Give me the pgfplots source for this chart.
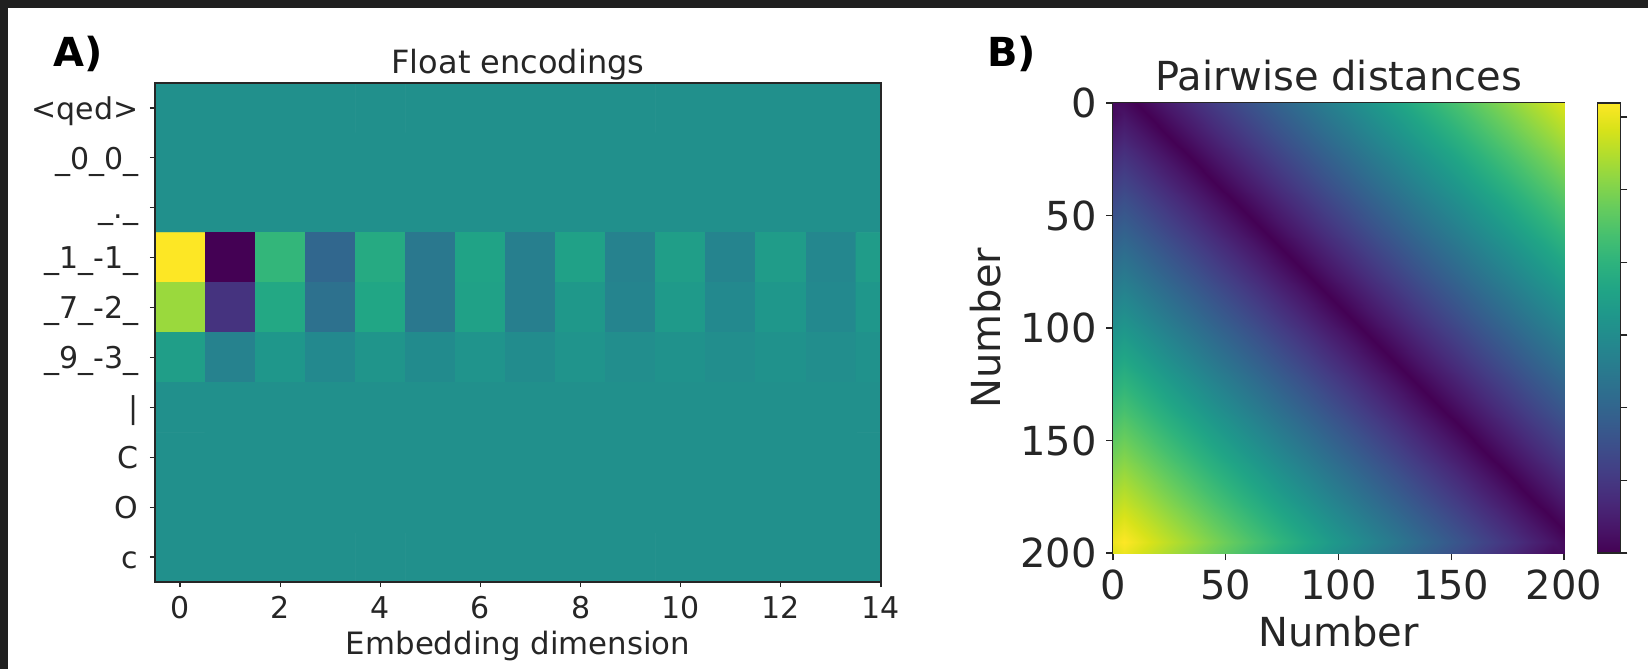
\documentclass[border=0pt]{standalone}
\usepackage{fontspec}
\setmainfont{DejaVu Sans}
\usepackage{pgfplots}
\pgfplotsset{compat=1.18}
\definecolor{bgdark}{RGB}{32,32,32}
\definecolor{axgray}{RGB}{38,38,38}

\pgfplotsset{
  mplstyle/.style={
    scale only axis,
    tick align=outside,
    xtick pos=left, ytick pos=left,
    axis line style={axgray, line width=0.8pt},
    every tick/.style={axgray, line width=0.6pt},
    /pgf/number format/assume math mode=true,
    colormap/viridis,
    point meta=explicit,
  },
}

\begin{document}
\begin{tikzpicture}
\fill[bgdark] (0,0) rectangle (824pt,334.5pt);
\fill[white] (4pt,0) rectangle (824pt,330.5pt);

\node[font=\fontsize{20}{24}\selectfont\bfseries, anchor=base west, inner sep=0pt, text=black] at (26.5pt,301pt) {A)};
\node[font=\fontsize{20}{24}\selectfont\bfseries, anchor=base west, inner sep=0pt, text=black] at (493.5pt,301pt) {B)};

% Panel A: float encodings
\begin{axis}[
  mplstyle,
  at={(77.5pt,43.5pt)}, anchor=south west,
  width=363pt, height=249.5pt,
  xmin=-0.5, xmax=14, ymin=-0.5, ymax=9.5, y dir=reverse,
  xtick={0,2,...,14}, ytick={0,...,9},
  yticklabels={<qed>, \_0\_0\_, \_.\_, \_1\_-1\_, \_7\_-2\_, \_9\_-3\_, |, C, O, c},
  major tick length=2.5pt,
  tick label style={font=\fontsize{15}{18}\selectfont, text=axgray, inner sep=0pt},
  xticklabel style={anchor=base, yshift=-15.5pt},
  yticklabel style={anchor=base east, xshift=-5.7pt, yshift=-5.6pt},
  title={Float encodings},
  title style={font=\fontsize{16}{19}\selectfont, text=axgray, at={(0.5,1)}, anchor=base, yshift=-1pt, inner sep=0pt},
  xlabel={Embedding dimension},
  xlabel style={font=\fontsize{15.4}{18}\selectfont, text=axgray, at={(0.5,0)}, anchor=base, yshift=-36pt, inner sep=0pt},
  point meta min=-1, point meta max=1,
]
\addplot[matrix plot, mesh/cols=15] coordinates {
(0,0)[0] (1,0)[0] (2,0)[0] (3,0)[0] (4,0)[0] (5,0)[0] (6,0)[0] (7,0)[0] (8,0)[0] (9,0)[0] (10,0)[0] (11,0)[0] (12,0)[0] (13,0)[0] (14,0)[0]
(0,1)[0] (1,1)[0] (2,1)[0] (3,1)[0] (4,1)[0] (5,1)[0] (6,1)[0] (7,1)[0] (8,1)[0] (9,1)[0] (10,1)[0] (11,1)[0] (12,1)[0] (13,1)[0] (14,1)[0]
(0,2)[0] (1,2)[0] (2,2)[0] (3,2)[0] (4,2)[0] (5,2)[0] (6,2)[0] (7,2)[0] (8,2)[0] (9,2)[0] (10,2)[0] (11,2)[0] (12,2)[0] (13,2)[0] (14,2)[0]
(0,3)[1] (1,3)[-1] (2,3)[0.32] (3,3)[-0.34] (4,3)[0.22] (5,3)[-0.2] (6,3)[0.16] (7,3)[-0.14] (8,3)[0.14] (9,3)[-0.12] (10,3)[0.12] (11,3)[-0.1] (12,3)[0.1] (13,3)[-0.08] (14,3)[0.1]
(0,4)[0.7] (1,4)[-0.71] (2,4)[0.2] (3,4)[-0.26] (4,4)[0.18] (5,4)[-0.2] (6,4)[0.14] (7,4)[-0.14] (8,4)[0.07] (9,4)[-0.1] (10,4)[0.08] (11,4)[-0.06] (12,4)[0.06] (13,4)[-0.06] (14,4)[0.06]
(0,5)[0.12] (1,5)[-0.12] (2,5)[0.06] (3,5)[-0.06] (4,5)[0.04] (5,5)[-0.04] (6,5)[0.03] (7,5)[-0.03] (8,5)[0.03] (9,5)[-0.02] (10,5)[0.02] (11,5)[-0.02] (12,5)[0.02] (13,5)[-0.02] (14,5)[0.02]
(0,6)[0] (1,6)[0] (2,6)[0] (3,6)[0] (4,6)[0] (5,6)[0] (6,6)[0] (7,6)[0] (8,6)[0] (9,6)[0] (10,6)[0] (11,6)[0] (12,6)[0] (13,6)[0] (14,6)[0]
(0,7)[0] (1,7)[0] (2,7)[0] (3,7)[0] (4,7)[0] (5,7)[0] (6,7)[0] (7,7)[0] (8,7)[0] (9,7)[0] (10,7)[0] (11,7)[0] (12,7)[0] (13,7)[0] (14,7)[0]
(0,8)[0] (1,8)[0] (2,8)[0] (3,8)[0] (4,8)[0] (5,8)[0] (6,8)[0] (7,8)[0] (8,8)[0] (9,8)[0] (10,8)[0] (11,8)[0] (12,8)[0] (13,8)[0] (14,8)[0]
(0,9)[0] (1,9)[0] (2,9)[0] (3,9)[0] (4,9)[0] (5,9)[0] (6,9)[0] (7,9)[0] (8,9)[0] (9,9)[0] (10,9)[0] (11,9)[0] (12,9)[0] (13,9)[0] (14,9)[0]
};
\end{axis}

% Panel B: pairwise distances (rows listed from x=200 down to x=0)
\begin{axis}[
  mplstyle,
  at={(556.5pt,58pt)}, anchor=south west,
  width=225.5pt, height=225pt,
  xmin=0, xmax=200, ymin=0, ymax=200, y dir=reverse,
  xtick={0,50,...,200}, ytick={0,50,...,200},
  major tick length=3.5pt,
  tick label style={font=\fontsize{20}{24}\selectfont, text=axgray, inner sep=0pt},
  xticklabel style={anchor=base, yshift=-19.5pt},
  yticklabel style={anchor=base east, xshift=-4.5pt, yshift=-7.3pt},
  title={Pairwise distances},
  title style={font=\fontsize{20}{24}\selectfont, text=axgray, at={(0.5,1)}, anchor=base, yshift=0.5pt, inner sep=0pt},
  xlabel={Number},
  xlabel style={font=\fontsize{20}{24}\selectfont, text=axgray, at={(0.5,0)}, anchor=base, yshift=-46.5pt, inner sep=0pt},
  ylabel={Number},
  ylabel style={font=\fontsize{20}{24}\selectfont, text=axgray, at={(0,0.5)}, anchor=center, yshift=63.5pt, inner sep=0pt},
  point meta min=0, point meta max=200,
  colorbar,
  colorbar style={
    at={(parent axis.north east)}, anchor=north west, xshift=8.2pt,
    scale only axis, width=11.5pt, height=225pt,
    axis line style={axgray, line width=0.8pt},
    every tick/.style={axgray, line width=0.6pt},
    tick align=outside, major tick length=3.5pt,
    xtick=\empty, ytick pos=right,
    ytick={0,32.3,64.6,96.9,129.2,161.5,193.8}, yticklabels={},
  },
]
\addplot[matrix plot*, shader=interp, mesh/cols=21] coordinates {
(200,0)[200] (190,0)[190] (180,0)[180] (170,0)[170] (160,0)[160] (150,0)[150] (140,0)[140] (130,0)[130] (120,0)[120] (110,0)[110] (100,0)[100] (90,0)[90] (80,0)[80] (70,0)[70] (60,0)[60] (50,0)[50] (40,0)[40] (30,0)[30] (20,0)[20] (10,0)[10] (0,0)[0]
(200,10)[190] (190,10)[180] (180,10)[170] (170,10)[160] (160,10)[150] (150,10)[140] (140,10)[130] (130,10)[120] (120,10)[110] (110,10)[100] (100,10)[90] (90,10)[80] (80,10)[70] (70,10)[60] (60,10)[50] (50,10)[40] (40,10)[30] (30,10)[20] (20,10)[10] (10,10)[0] (0,10)[10]
(200,20)[180] (190,20)[170] (180,20)[160] (170,20)[150] (160,20)[140] (150,20)[130] (140,20)[120] (130,20)[110] (120,20)[100] (110,20)[90] (100,20)[80] (90,20)[70] (80,20)[60] (70,20)[50] (60,20)[40] (50,20)[30] (40,20)[20] (30,20)[10] (20,20)[0] (10,20)[10] (0,20)[20]
(200,30)[170] (190,30)[160] (180,30)[150] (170,30)[140] (160,30)[130] (150,30)[120] (140,30)[110] (130,30)[100] (120,30)[90] (110,30)[80] (100,30)[70] (90,30)[60] (80,30)[50] (70,30)[40] (60,30)[30] (50,30)[20] (40,30)[10] (30,30)[0] (20,30)[10] (10,30)[20] (0,30)[30]
(200,40)[160] (190,40)[150] (180,40)[140] (170,40)[130] (160,40)[120] (150,40)[110] (140,40)[100] (130,40)[90] (120,40)[80] (110,40)[70] (100,40)[60] (90,40)[50] (80,40)[40] (70,40)[30] (60,40)[20] (50,40)[10] (40,40)[0] (30,40)[10] (20,40)[20] (10,40)[30] (0,40)[40]
(200,50)[150] (190,50)[140] (180,50)[130] (170,50)[120] (160,50)[110] (150,50)[100] (140,50)[90] (130,50)[80] (120,50)[70] (110,50)[60] (100,50)[50] (90,50)[40] (80,50)[30] (70,50)[20] (60,50)[10] (50,50)[0] (40,50)[10] (30,50)[20] (20,50)[30] (10,50)[40] (0,50)[50]
(200,60)[140] (190,60)[130] (180,60)[120] (170,60)[110] (160,60)[100] (150,60)[90] (140,60)[80] (130,60)[70] (120,60)[60] (110,60)[50] (100,60)[40] (90,60)[30] (80,60)[20] (70,60)[10] (60,60)[0] (50,60)[10] (40,60)[20] (30,60)[30] (20,60)[40] (10,60)[50] (0,60)[60]
(200,70)[130] (190,70)[120] (180,70)[110] (170,70)[100] (160,70)[90] (150,70)[80] (140,70)[70] (130,70)[60] (120,70)[50] (110,70)[40] (100,70)[30] (90,70)[20] (80,70)[10] (70,70)[0] (60,70)[10] (50,70)[20] (40,70)[30] (30,70)[40] (20,70)[50] (10,70)[60] (0,70)[70]
(200,80)[120] (190,80)[110] (180,80)[100] (170,80)[90] (160,80)[80] (150,80)[70] (140,80)[60] (130,80)[50] (120,80)[40] (110,80)[30] (100,80)[20] (90,80)[10] (80,80)[0] (70,80)[10] (60,80)[20] (50,80)[30] (40,80)[40] (30,80)[50] (20,80)[60] (10,80)[70] (0,80)[80]
(200,90)[110] (190,90)[100] (180,90)[90] (170,90)[80] (160,90)[70] (150,90)[60] (140,90)[50] (130,90)[40] (120,90)[30] (110,90)[20] (100,90)[10] (90,90)[0] (80,90)[10] (70,90)[20] (60,90)[30] (50,90)[40] (40,90)[50] (30,90)[60] (20,90)[70] (10,90)[80] (0,90)[90]
(200,100)[100] (190,100)[90] (180,100)[80] (170,100)[70] (160,100)[60] (150,100)[50] (140,100)[40] (130,100)[30] (120,100)[20] (110,100)[10] (100,100)[0] (90,100)[10] (80,100)[20] (70,100)[30] (60,100)[40] (50,100)[50] (40,100)[60] (30,100)[70] (20,100)[80] (10,100)[90] (0,100)[100]
(200,110)[90] (190,110)[80] (180,110)[70] (170,110)[60] (160,110)[50] (150,110)[40] (140,110)[30] (130,110)[20] (120,110)[10] (110,110)[0] (100,110)[10] (90,110)[20] (80,110)[30] (70,110)[40] (60,110)[50] (50,110)[60] (40,110)[70] (30,110)[80] (20,110)[90] (10,110)[100] (0,110)[110]
(200,120)[80] (190,120)[70] (180,120)[60] (170,120)[50] (160,120)[40] (150,120)[30] (140,120)[20] (130,120)[10] (120,120)[0] (110,120)[10] (100,120)[20] (90,120)[30] (80,120)[40] (70,120)[50] (60,120)[60] (50,120)[70] (40,120)[80] (30,120)[90] (20,120)[100] (10,120)[110] (0,120)[120]
(200,130)[70] (190,130)[60] (180,130)[50] (170,130)[40] (160,130)[30] (150,130)[20] (140,130)[10] (130,130)[0] (120,130)[10] (110,130)[20] (100,130)[30] (90,130)[40] (80,130)[50] (70,130)[60] (60,130)[70] (50,130)[80] (40,130)[90] (30,130)[100] (20,130)[110] (10,130)[120] (0,130)[130]
(200,140)[60] (190,140)[50] (180,140)[40] (170,140)[30] (160,140)[20] (150,140)[10] (140,140)[0] (130,140)[10] (120,140)[20] (110,140)[30] (100,140)[40] (90,140)[50] (80,140)[60] (70,140)[70] (60,140)[80] (50,140)[90] (40,140)[100] (30,140)[110] (20,140)[120] (10,140)[130] (0,140)[140]
(200,150)[50] (190,150)[40] (180,150)[30] (170,150)[20] (160,150)[10] (150,150)[0] (140,150)[10] (130,150)[20] (120,150)[30] (110,150)[40] (100,150)[50] (90,150)[60] (80,150)[70] (70,150)[80] (60,150)[90] (50,150)[100] (40,150)[110] (30,150)[120] (20,150)[130] (10,150)[140] (0,150)[150]
(200,160)[40] (190,160)[30] (180,160)[20] (170,160)[10] (160,160)[0] (150,160)[10] (140,160)[20] (130,160)[30] (120,160)[40] (110,160)[50] (100,160)[60] (90,160)[70] (80,160)[80] (70,160)[90] (60,160)[100] (50,160)[110] (40,160)[120] (30,160)[130] (20,160)[140] (10,160)[150] (0,160)[160]
(200,170)[30] (190,170)[20] (180,170)[10] (170,170)[0] (160,170)[10] (150,170)[20] (140,170)[30] (130,170)[40] (120,170)[50] (110,170)[60] (100,170)[70] (90,170)[80] (80,170)[90] (70,170)[100] (60,170)[110] (50,170)[120] (40,170)[130] (30,170)[140] (20,170)[150] (10,170)[160] (0,170)[170]
(200,180)[20] (190,180)[10] (180,180)[0] (170,180)[10] (160,180)[20] (150,180)[30] (140,180)[40] (130,180)[50] (120,180)[60] (110,180)[70] (100,180)[80] (90,180)[90] (80,180)[100] (70,180)[110] (60,180)[120] (50,180)[130] (40,180)[140] (30,180)[150] (20,180)[160] (10,180)[170] (0,180)[180]
(200,190)[10] (190,190)[0] (180,190)[10] (170,190)[20] (160,190)[30] (150,190)[40] (140,190)[50] (130,190)[60] (120,190)[70] (110,190)[80] (100,190)[90] (90,190)[100] (80,190)[110] (70,190)[120] (60,190)[130] (50,190)[140] (40,190)[150] (30,190)[160] (20,190)[170] (10,190)[180] (0,190)[190]
(200,200)[0] (190,200)[10] (180,200)[20] (170,200)[30] (160,200)[40] (150,200)[50] (140,200)[60] (130,200)[70] (120,200)[80] (110,200)[90] (100,200)[100] (90,200)[110] (80,200)[120] (70,200)[130] (60,200)[140] (50,200)[150] (40,200)[160] (30,200)[170] (20,200)[180] (10,200)[190] (0,200)[200]
};
\end{axis}

\pgfresetboundingbox
\path[use as bounding box] (0,0) rectangle (824pt,334.5pt);
\end{tikzpicture}
\end{document}
